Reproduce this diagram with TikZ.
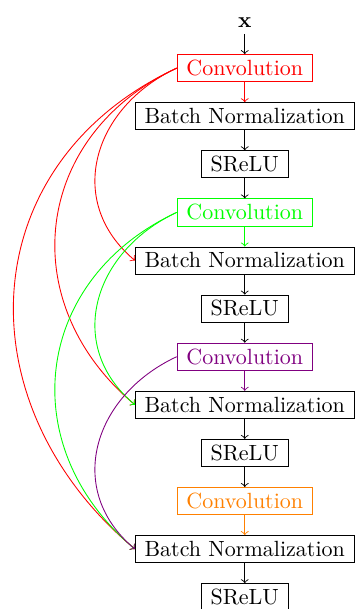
\documentclass[tikz,border=0pt]{standalone}
\usepackage{amsmath}
\usepackage{xcolor}
\usetikzlibrary{matrix}
\usetikzlibrary{calc}

\begin{document}
\begin{tikzpicture}[
			     >=to,
			     block/.style={draw=black},
			     conv/.style={draw=#1, text=#1},
			     normal line/.style={->},
			     skip line/.style={->, out=205, in=140, looseness=1.2}
			     ]
\matrix (m) [matrix of nodes, row sep={21.86pt,between origins},
             nodes={inner xsep=4.2pt, inner ysep=2.6pt, text height=6.9pt, text depth=0.2pt}] {%
$\mathbf{x}$
\\
|[conv=red]| Convolution
\\
|[block]| Batch Normalization
\\
|[block]| SReLU
\\
|[conv=green]| Convolution
\\
|[block]| Batch Normalization
\\
|[block]| SReLU
\\
|[conv=violet]| Convolution
\\
|[block]| Batch Normalization
\\
|[block]| SReLU
\\
|[conv=orange]| Convolution
\\
|[block]| Batch Normalization
\\
|[block]| SReLU
\\
};
% main path
\path (m-1-1) edge[normal line] (m-2-1);
\path (m-2-1) edge[normal line, red] (m-3-1);
\path (m-3-1) edge[normal line] (m-4-1);
\path (m-4-1) edge[normal line] (m-5-1);
\path (m-5-1) edge[normal line, green] (m-6-1);
\path (m-6-1) edge[normal line] (m-7-1);
\path (m-7-1) edge[normal line] (m-8-1);
\path (m-8-1) edge[normal line, violet] (m-9-1);
\path (m-9-1) edge[normal line] (m-10-1);
\path (m-10-1) edge[normal line] (m-11-1);
\path (m-11-1) edge[normal line, orange] (m-12-1);
\path (m-12-1) edge[normal line] (m-13-1);
% dense skips into the later normalizations
\path (m-2-1.west) edge[skip line, red] (m-6-1.west);
\path (m-2-1.west) edge[skip line, red] (m-9-1.west);
\path (m-2-1.west) edge[skip line, red] (m-12-1.west);
\path (m-5-1.west) edge[skip line, green] (m-9-1.west);
\path (m-5-1.west) edge[skip line, green] (m-12-1.west);
\path (m-8-1.west) edge[skip line, violet] (m-12-1.west);
\pgfresetboundingbox
\path[use as bounding box] let \p1=(m-3-1.east), \p2=(m-1-1.center) in
  (\x1+0.2pt-161.35pt, \y2-267.7pt) rectangle (\x1+0.2pt, \y2+9.1pt);
\end{tikzpicture}
\end{document}
